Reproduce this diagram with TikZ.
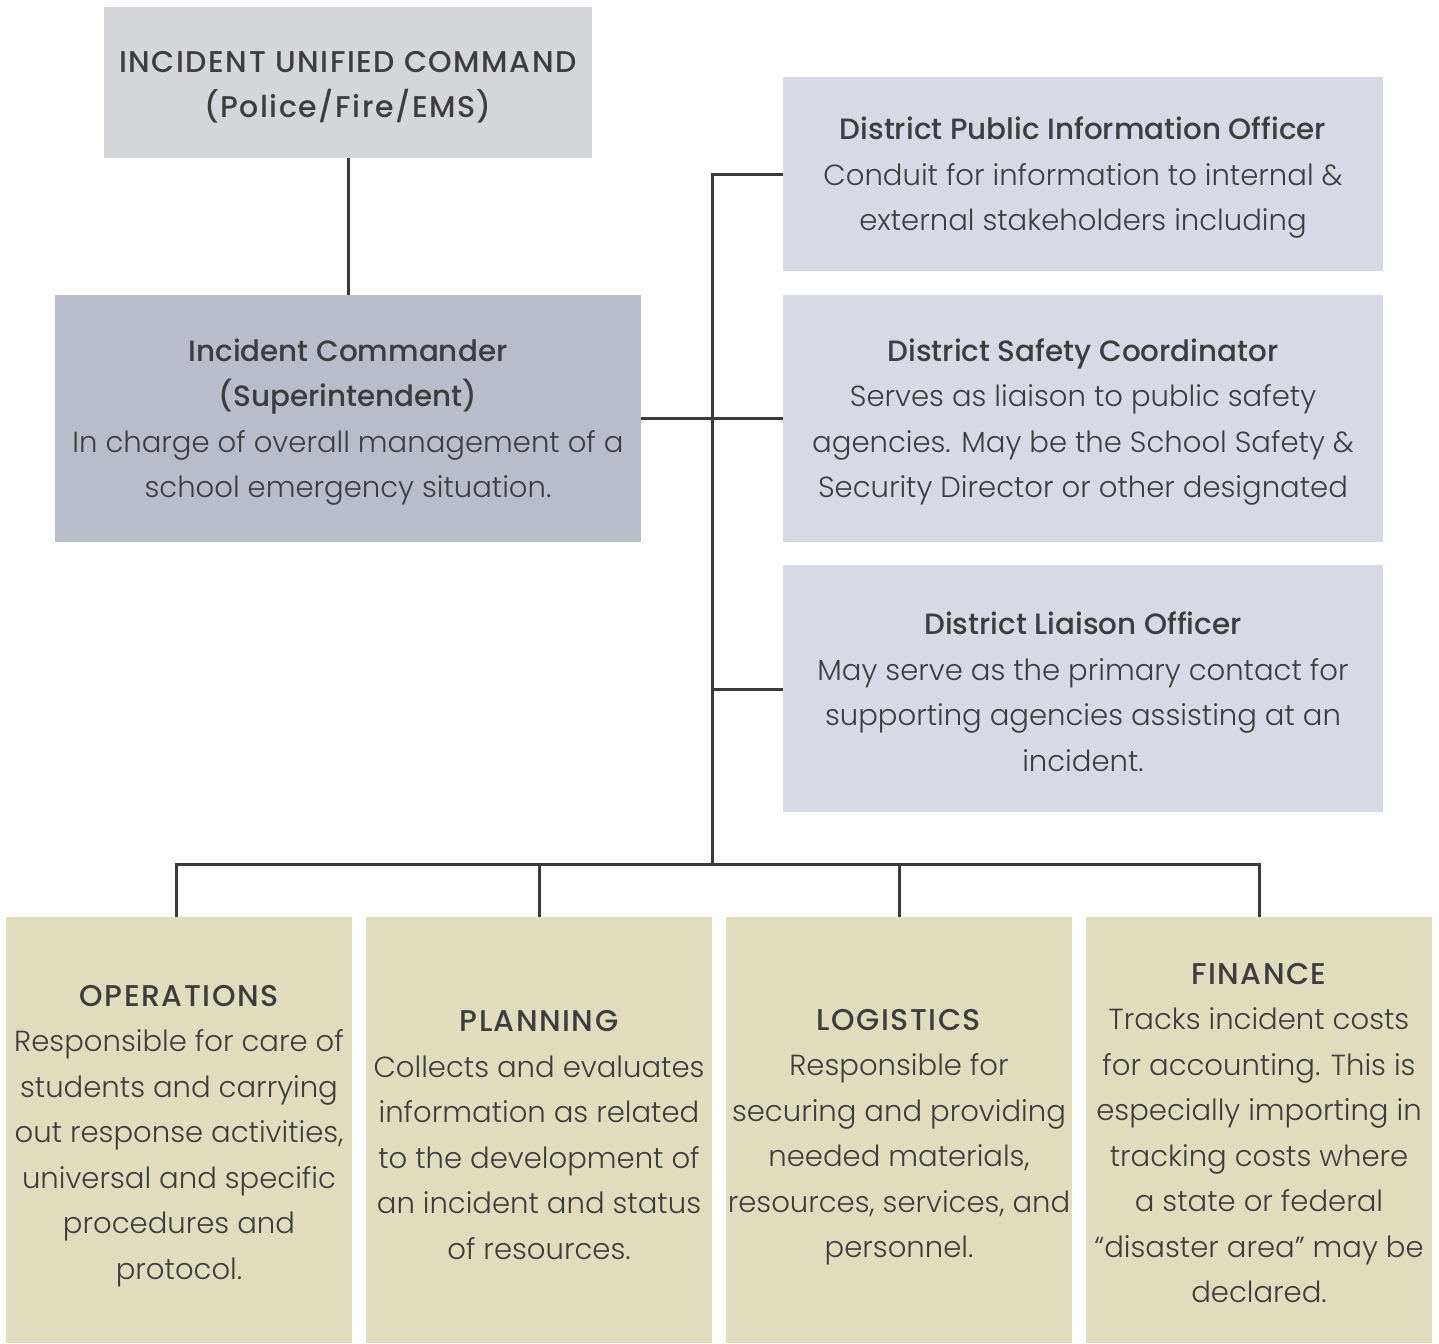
\documentclass[tikz,border=0pt]{standalone}
\usepackage{fontspec}
\setmainfont{Poppins}[UprightFont=* Light, BoldFont=* Medium]
\definecolor{txt}{HTML}{3D3D3D}
\definecolor{linec}{HTML}{3A3A3A}
\definecolor{topc}{HTML}{D5D6D9}
\definecolor{cmdc}{HTML}{B9BCC9}
\definecolor{rightc}{HTML}{D7DAE4}
\definecolor{botc}{HTML}{DFDDBD}
\newcommand{\ttl}[1]{{\fontsize{14.7}{22.75}\selectfont\bfseries #1}}
\newcommand{\capttl}[1]{{\fontsize{15}{22.75}\selectfont\bfseries\addfontfeatures{LetterSpace=5}#1}}
\tikzset{
  box/.style={inner sep=0pt, align=center, text=txt,
    font=\fontsize{14.55}{22.75}\selectfont},
  conn/.style={draw=linec, line width=1.5pt}
}
\begin{document}
\begin{tikzpicture}[x=0.5pt,y=-0.5pt]
\useasboundingbox (0,0) rectangle (1439,1343);
% boxes
\fill[topc] (104,7) rectangle (592,158);
\fill[cmdc] (55,295) rectangle (641,542);
\fill[rightc] (783,77) rectangle (1383,271);
\fill[rightc] (783,295) rectangle (1383,542);
\fill[rightc] (783,565) rectangle (1383,812);
\fill[botc] (6,917) rectangle (352,1343);
\fill[botc] (366,917) rectangle (712,1343);
\fill[botc] (726,917) rectangle (1072,1343);
\fill[botc] (1086,917) rectangle (1432,1343);
% texts
\node[box] (uc) at (348,87) {\capttl{INCIDENT UNIFIED COMMAND}\\\capttl{(Police/Fire/EMS)}};
\node[box] (ic) at (348,422) {\ttl{Incident Commander}\\\ttl{(Superintendent)}\\In charge of overall management of a\\school emergency situation.};
\node[box] (pio) at (1083,178) {\ttl{District Public Information Officer}\\Conduit for information to internal \&\\external stakeholders including};
\node[box] (dsc) at (1083,422) {\ttl{District Safety Coordinator}\\Serves as liaison to public safety\\agencies. May be the School Safety \&\\Security Director or other designated};
\node[box] (dlo) at (1083,692) {\ttl{District Liaison Officer}\\May serve as the primary contact for\\supporting agencies assisting at an\\incident.};
\node[box] (ops) at (179,1136) {\capttl{OPERATIONS}\\Responsible for care of\\students and carrying\\out response activities,\\universal and specific\\procedures and\\protocol.};
\node[box] (pln) at (539,1135) {\capttl{PLANNING}\\Collects and evaluates\\information as related\\to the development of\\an incident and status\\of resources.};
\node[box] (log) at (899,1137) {\capttl{LOGISTICS}\\Responsible for\\securing and providing\\needed materials,\\resources, services, and\\personnel.};
\node[box] (fin) at (1259,1133) {\capttl{FINANCE}\\Tracks incident costs\\for accounting. This is\\especially importing in\\tracking costs where\\a state or federal\\“disaster area” may be\\declared.};
% anchor coordinates
\coordinate (ucb) at (348,158);
\coordinate (ict) at (348,295);
\coordinate (icr) at (641,418);
\coordinate (tTop) at (712,174);
\coordinate (tLia) at (712,689);
\coordinate (tBot) at (712,864);
\coordinate (pioL) at (783,174);
\coordinate (dscL) at (783,418);
\coordinate (dloL) at (783,689);
\coordinate (opsT) at (176,917);
\coordinate (plnT) at (539,917);
\coordinate (logT) at (899,917);
\coordinate (finT) at (1259,917);
% connectors
\draw[conn] (ucb) -- (ict);
\draw[conn] (icr) -- (dscL);
\draw[conn] (pioL) -- (tTop) -- (tBot);
\draw[conn] (tLia) -- (dloL);
\draw[conn] (opsT) |- (tBot) -| (finT);
\draw[conn] (plnT |- tBot) -- (plnT);
\draw[conn] (logT |- tBot) -- (logT);
\end{tikzpicture}
\end{document}
